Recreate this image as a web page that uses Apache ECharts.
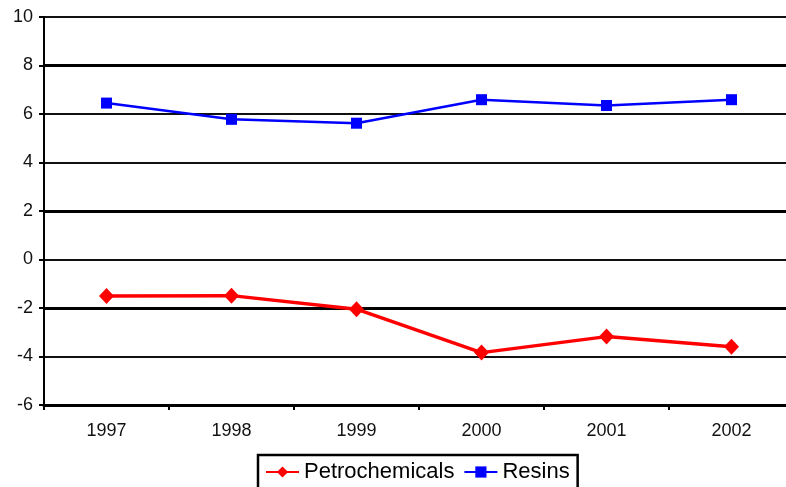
<!DOCTYPE html>
<html><head><meta charset="utf-8">
<script src="https://cdn.jsdelivr.net/npm/echarts@6/dist/echarts.min.js"></script>
<style>html,body{margin:0;padding:0;background:#fff;overflow:hidden}#c{width:800px;height:487px}</style>
</head><body><div id="c"></div>
<script>
const years = ['1997','1998','1999','2000','2001','2002'];
const petrochemicals = [-1.5, -1.49, -2.05, -3.84, -3.18, -3.6];
const resins = [6.45, 5.78, 5.62, 6.59, 6.35, 6.59];
const yTicks = {min: -6, max: 10, interval: 2};
const thickLines = [8, 2, -2];

const chart = echarts.init(document.getElementById('c'), null, {renderer: 'canvas'});
const font = 'Liberation Sans, Arial, sans-serif';
chart.setOption({
  animation: false,
  backgroundColor: '#fff',
  grid: {left: 44, top: 17, width: 750, height: 388, containLabel: false},
  xAxis: {
    type: 'category', data: years, boundaryGap: true,
    axisLine: {onZero: false, lineStyle: {color: '#000', width: 3}},
    axisTick: {show: true, length: 5, lineStyle: {color: '#000', width: 2}},
    axisLabel: {color: '#111', fontFamily: font, fontSize: 18, margin: 17},
    splitLine: {show: false}
  },
  yAxis: {
    type: 'value', min: yTicks.min, max: yTicks.max, interval: yTicks.interval,
    axisLine: {show: true, lineStyle: {color: '#000', width: 2}},
    axisTick: {show: true, length: 5, lineStyle: {color: '#000', width: 2}},
    axisLabel: {color: '#111', fontFamily: font, fontSize: 18, margin: 11},
    splitLine: {show: true, lineStyle: {color: '#111', width: 1.8}}
  },
  legend: {
    data: ['Petrochemicals', 'Resins'],
    left: 258, top: 455,
    orient: 'horizontal',
    itemGap: 9, itemWidth: 33, itemHeight: 14,
    borderColor: '#000', borderWidth: 2.5, borderRadius: 0,
    padding: [6, 8, 12, 7],
    textStyle: {fontFamily: font, fontSize: 22, color: '#000', padding: [0,0,0,0]}
  },
  series: [
    {
      name: 'Petrochemicals', type: 'line', data: petrochemicals,
      symbol: 'diamond', symbolSize: [15, 16],
      lineStyle: {color: '#ff0000', width: 3.5},
      itemStyle: {color: '#ff0000'},
      z: 3,
      markLine: {
        silent: true, symbol: 'none', label: {show: false},
        lineStyle: {color: '#000', width: 3.2, type: 'solid'},
        data: thickLines.map(v => ({yAxis: v})),
        z: 1
      }
    },
    {
      name: 'Resins', type: 'line', data: resins,
      symbol: 'rect', symbolSize: 11,
      lineStyle: {color: '#0000ff', width: 2.5},
      itemStyle: {color: '#0000ff'},
      z: 4
    }
  ]
});
</script></body></html>
